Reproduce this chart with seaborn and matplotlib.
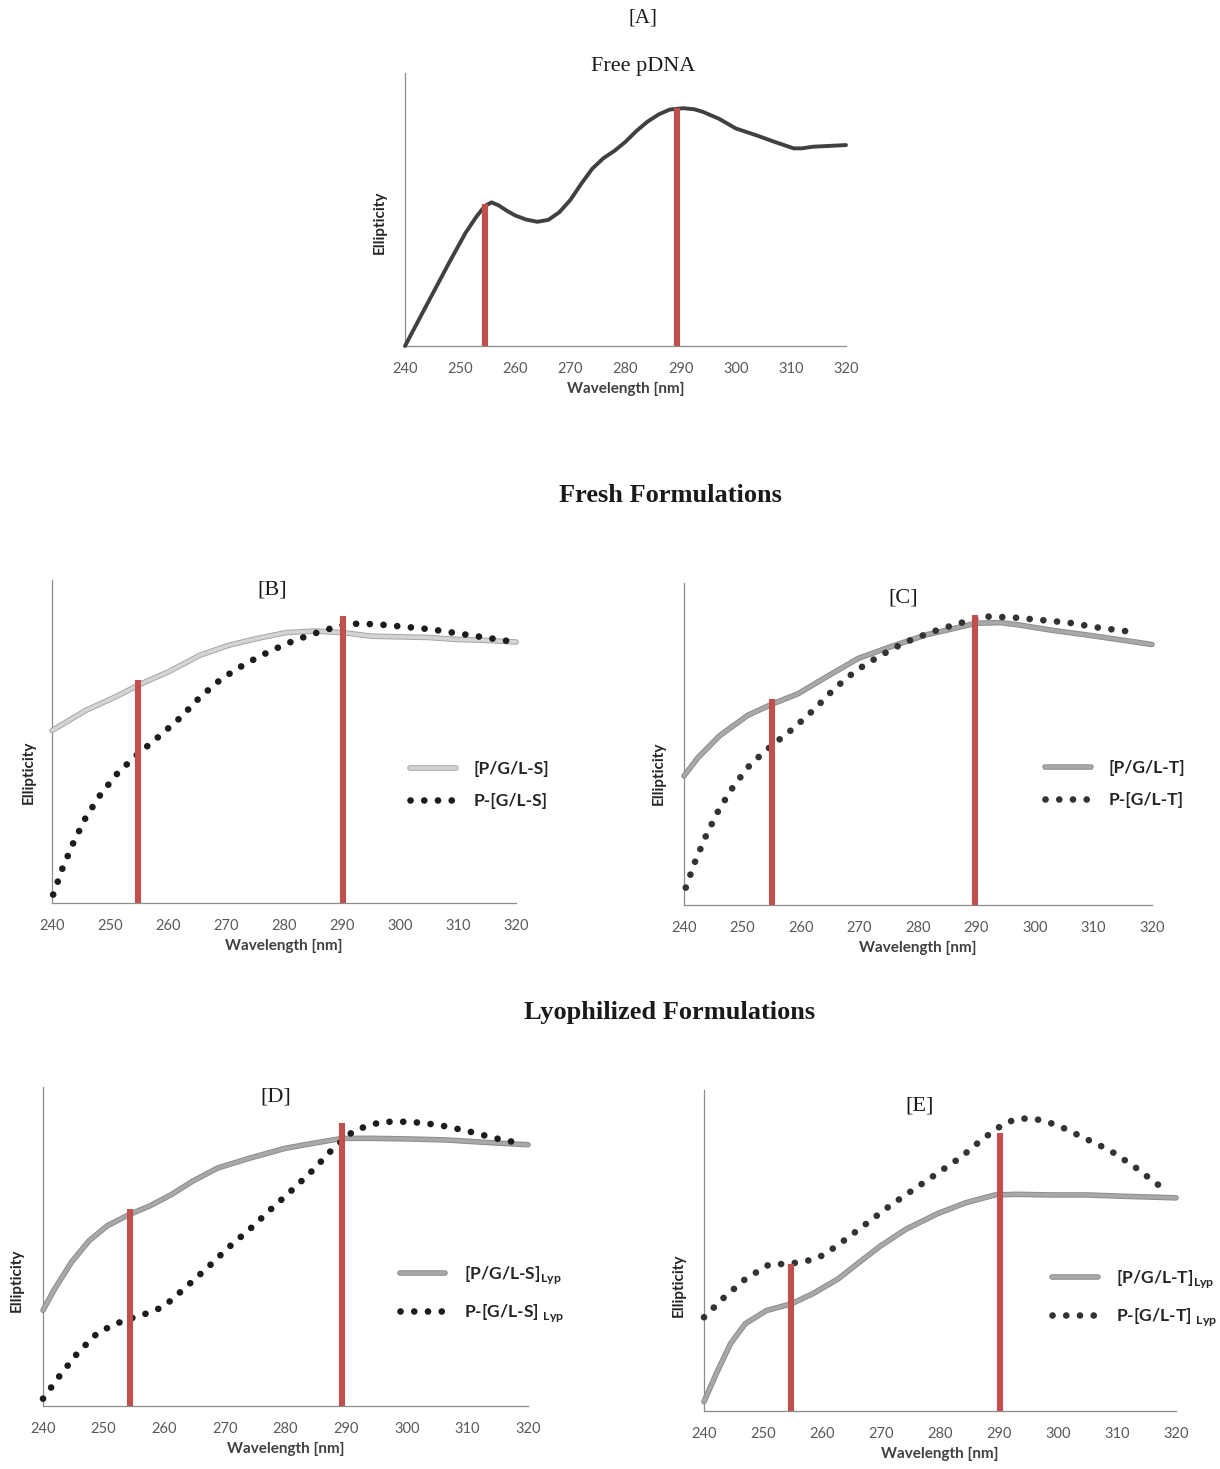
import matplotlib
matplotlib.use("Agg")
import matplotlib.pyplot as plt
import matplotlib.patheffects as pe
import seaborn as sns
import pandas as pd

# CD spectra
# ellipticity is relative: 0 = x axis, 1 = top of the y axis line

# [A] free pDNA
wl_a = [240, 244, 248, 251, 253, 254.5, 255.7, 257, 258.5, 260, 262, 264, 266, 268, 270, 272, 274, 276, 278, 280, 282, 284, 286, 288, 290.5, 292.5, 294, 297, 300, 304, 307, 310.5, 312, 314, 320]
ell_a = [0.0, 0.153, 0.305, 0.415, 0.475, 0.513, 0.526, 0.515, 0.495, 0.478, 0.463, 0.455, 0.462, 0.49, 0.535, 0.595, 0.65, 0.688, 0.715, 0.748, 0.788, 0.822, 0.848, 0.866, 0.871, 0.867, 0.858, 0.832, 0.797, 0.77, 0.748, 0.724, 0.724, 0.73, 0.736]

# [B] fresh, S
wl_b_solid = [240, 245.8, 250.8, 255.4, 260, 265.5, 270.5, 275.4, 280.3, 285.2, 290.2, 295.1, 300, 304.9, 309.8, 314.8, 320]
ell_b_solid = [0.534, 0.596, 0.637, 0.679, 0.715, 0.767, 0.798, 0.819, 0.837, 0.842, 0.837, 0.826, 0.824, 0.822, 0.816, 0.813, 0.808]
wl_b_dot = [240.2, 241.8, 243.7, 245.8, 248.4, 251.4, 254.8, 258.6, 262.2, 265.5, 269.2, 273.2, 277.5, 281.8, 286.5, 291.1, 296, 300.9, 305.5, 310.2, 315.1, 319.7]
ell_b_dot = [0.026, 0.107, 0.187, 0.264, 0.337, 0.404, 0.461, 0.518, 0.575, 0.637, 0.694, 0.739, 0.779, 0.813, 0.842, 0.865, 0.863, 0.855, 0.847, 0.834, 0.821, 0.808]

# [C] fresh, T
wl_c_solid = [240, 242.4, 246.1, 250.9, 255.2, 259.5, 264.3, 269.8, 275.3, 281.4, 286.2, 289.9, 294.1, 297.2, 302.6, 308.7, 314.8, 320]
ell_c_solid = [0.401, 0.458, 0.526, 0.589, 0.625, 0.656, 0.708, 0.766, 0.802, 0.839, 0.859, 0.875, 0.877, 0.870, 0.854, 0.839, 0.823, 0.809]
wl_c_dot = [240.3, 241.9, 243.8, 245.9, 248.5, 251.4, 255, 258.8, 262.4, 265.7, 269.4, 273.4, 277.7, 282.2, 286.7, 291.4, 296.3, 301, 305.7, 310.6, 315.3, 317.7]
ell_c_dot = [0.054, 0.135, 0.217, 0.294, 0.370, 0.438, 0.495, 0.55, 0.61, 0.672, 0.728, 0.773, 0.815, 0.847, 0.873, 0.896, 0.893, 0.885, 0.877, 0.862, 0.851, 0.846]

# [D] lyophilized, S
wl_d_solid = [240, 241.8, 244.7, 247.6, 250.6, 254.1, 257.6, 261.2, 264.7, 268.8, 274.1, 280, 284.7, 289.4, 294.7, 300.6, 306.5, 312.4, 320]
ell_d_solid = [0.30, 0.363, 0.451, 0.518, 0.565, 0.599, 0.627, 0.663, 0.705, 0.746, 0.777, 0.808, 0.824, 0.839, 0.839, 0.837, 0.834, 0.827, 0.819]
wl_d_dot = [240, 242.8, 245.7, 249.1, 253.2, 257.9, 260, 263.6, 267.2, 270.6, 274.2, 277.6, 281.2, 284.6, 287.8, 291.4, 295.9, 300.6, 305.3, 310, 314.7, 319.3]
ell_d_dot = [0.023, 0.096, 0.166, 0.231, 0.267, 0.295, 0.313, 0.373, 0.435, 0.497, 0.556, 0.617, 0.679, 0.741, 0.806, 0.865, 0.891, 0.891, 0.881, 0.862, 0.839, 0.821]

# [E] lyophilized, T
wl_e_solid = [240, 242.1, 244.5, 247, 250.6, 254.8, 258.4, 262.7, 266.3, 269.9, 274.2, 279.6, 284.4, 289.3, 292.9, 299, 305, 311, 320]
ell_e_solid = [0.029, 0.117, 0.21, 0.272, 0.313, 0.334, 0.365, 0.411, 0.463, 0.514, 0.566, 0.615, 0.649, 0.673, 0.675, 0.673, 0.673, 0.669, 0.664]
wl_e_dot = [240, 243.3, 247, 251, 253.3, 255.7, 258, 260.3, 264.1, 267.9, 271.7, 275.6, 279.6, 283.5, 287.2, 291, 293.2, 295.6, 297.9, 300.2, 304.5, 308.8, 312.9, 316.5, 318.5]
ell_e_dot = [0.292, 0.352, 0.411, 0.456, 0.458, 0.462, 0.47, 0.486, 0.536, 0.589, 0.642, 0.691, 0.741, 0.79, 0.847, 0.897, 0.91, 0.912, 0.902, 0.888, 0.85, 0.812, 0.762, 0.711, 0.685]

# red marker bars at ~255 nm and ~290 nm
red_a_x, red_a_top = [254.5, 289.3], [0.52, 0.87]
red_b_x, red_b_top = [254.9, 290.1], [0.69, 0.89]
red_c_x, red_c_top = [255.1, 289.8], [0.64, 0.90]
red_d_x, red_d_top = [254.3, 289.4], [0.617, 0.886]
red_e_x, red_e_top = [254.8, 290.2], [0.457, 0.865]

xticks = [240, 250, 260, 270, 280, 290, 300, 310, 320]

W, H = 1220, 1469
RED = "#c0504d"
SANS = "Lato"
SERIF = "Liberation Serif"

sns.set_theme(style="white")
plt.rcParams["font.family"] = [SANS, "DejaVu Sans"]
plt.rcParams["mathtext.fontset"] = "custom"
plt.rcParams["mathtext.bf"] = "Lato:bold"
plt.rcParams["mathtext.rm"] = "Lato"

fig = plt.figure(figsize=(W / 100, H / 100), dpi=100)


def px_axes(left, right, top, bottom):
    return fig.add_axes([left / W, 1 - bottom / H, (right - left) / W, (bottom - top) / H])


def style_axes(ax, ylab_x, ylab_y):
    ax.set_xlim(240, 320)
    ax.set_ylim(0, 1)
    ax.set_xticks(xticks)
    ax.set_xticklabels([str(t) for t in xticks])
    ax.set_yticks([])
    ax.tick_params(axis="x", length=0, pad=11.5, labelsize=10.5, colors="#595959")
    for s in ["top", "right"]:
        ax.spines[s].set_visible(False)
    for s in ["left", "bottom"]:
        ax.spines[s].set_color("#8c8c8c")
        ax.spines[s].set_linewidth(0.9)
    ax.set_xlabel("Wavelength [nm]", fontsize=11, fontweight="bold", color="#404040", labelpad=4)
    ax.set_ylabel("Ellipticity", fontsize=11, fontweight="bold", color="#262626")
    ax.yaxis.set_label_coords(ylab_x, ylab_y)
    ax.set_facecolor("white")


def red_bars(ax, xs, tops):
    ax.vlines(xs, 0, tops, color=RED, linewidth=4.4, zorder=5)


def solid(ax, x, y, inner, outer, label, lw=2.6, olw=4.0):
    sns.lineplot(x=x, y=y, ax=ax, sort=False, color=inner, linewidth=lw, label=label,
                 path_effects=[pe.Stroke(linewidth=olw, foreground=outer), pe.Normal()],
                 clip_on=False, zorder=3)


def dotted(ax, x, y, color, label):
    sns.lineplot(x=x, y=y, ax=ax, sort=False, color=color, linewidth=4.8, label=label,
                 linestyle=(0, (0.01, 2.05)), dash_capstyle="round", clip_on=False, zorder=4)


def legend(ax, x0, yc, fontsize=12.6):
    ax.legend(loc="center left", bbox_to_anchor=(x0 / W, 1 - yc / H), bbox_transform=fig.transFigure,
              frameon=False, borderpad=0, borderaxespad=0, handlelength=2.6, handletextpad=1.05,
              labelspacing=0.95, prop={"family": SANS, "weight": "bold", "size": fontsize},
              labelcolor="#262626")


# ---- [A] free pDNA
ax_a = px_axes(405, 846, 73, 346)
sns.lineplot(x=wl_a, y=ell_a, ax=ax_a, sort=False, color="#404040", linewidth=2.8, clip_on=False, zorder=4)
red_bars(ax_a, red_a_x, red_a_top)
style_axes(ax_a, -0.041, 0.454)

# ---- [B]
ax_b = px_axes(52, 516, 580, 903)
solid(ax_b, wl_b_solid, ell_b_solid, "#d4d4d4", "#a6a6a6", "[P/G/L-S]")
dotted(ax_b, wl_b_dot, ell_b_dot, "#1c1c1c", "P-[G/L-S]")
red_bars(ax_b, red_b_x, red_b_top)
style_axes(ax_b, -0.034, 0.406)
legend(ax_b, 410, 785)

# ---- [C]
ax_c = px_axes(684, 1152, 583, 905)
solid(ax_c, wl_c_solid, ell_c_solid, "#a8a8a8", "#8c8c8c", "[P/G/L-T]")
dotted(ax_c, wl_c_dot, ell_c_dot, "#333333", "P-[G/L-T]")
red_bars(ax_c, red_c_x, red_c_top)
style_axes(ax_c, -0.038, 0.41)
legend(ax_c, 1045, 784)

# ---- [D]
ax_d = px_axes(43, 528, 1087, 1406)
solid(ax_d, wl_d_solid, ell_d_solid, "#a8a8a8", "#8c8c8c", r"[P/G/L-S]$_\mathbf{Lyp}$")
dotted(ax_d, wl_d_dot, ell_d_dot, "#1c1c1c", r"P-[G/L-S] $_\mathbf{Lyp}$")
red_bars(ax_d, red_d_x, red_d_top)
style_axes(ax_d, -0.039, 0.395)
legend(ax_d, 400, 1294)

# ---- [E]
ax_e = px_axes(704, 1176, 1090, 1411)
solid(ax_e, wl_e_solid, ell_e_solid, "#a8a8a8", "#8c8c8c", r"[P/G/L-T]$_\mathbf{Lyp}$")
dotted(ax_e, wl_e_dot, ell_e_dot, "#333333", r"P-[G/L-T] $_\mathbf{Lyp}$")
red_bars(ax_e, red_e_x, red_e_top)
style_axes(ax_e, -0.038, 0.39)
legend(ax_e, 1052, 1298)

# ---- titles
def ftext(x, y, s, size, weight="normal"):
    fig.text(x / W, 1 - y / H, s, ha="center", va="center", fontsize=size,
             fontweight=weight, family=[SERIF, "DejaVu Serif"], color="#1a1a1a")


ftext(643, 18, "[A]", 15)
ftext(643, 66, "Free pDNA", 16)
ftext(670, 496, "Fresh Formulations", 19, "bold")
ftext(272, 590, "[B]", 16)
ftext(903, 598, "[C]", 16)
ftext(670, 1013, "Lyophilized Formulations", 19, "bold")
ftext(276, 1097, "[D]", 16)
ftext(920, 1106, "[E]", 16)

fig.savefig("out.png", dpi=100, facecolor="white")
